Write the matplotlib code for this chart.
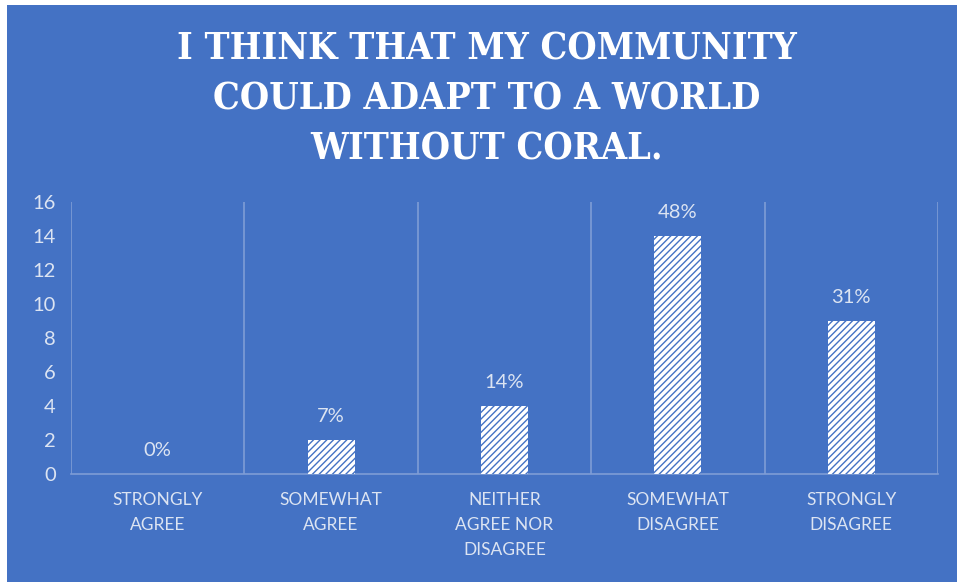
import numpy as np
import matplotlib.pyplot as plt
from matplotlib.patches import Rectangle

# Datos del gráfico
categories = ["STRONGLY\nAGREE", "SOMEWHAT\nAGREE", "NEITHER\nAGREE NOR\nDISAGREE",
              "SOMEWHAT\nDISAGREE", "STRONGLY\nDISAGREE"]
counts = [0, 2, 4, 14, 9]
pct_labels = ["0%", "7%", "14%", "48%", "31%"]
yticks = [0, 2, 4, 6, 8, 10, 12, 14, 16]
title = "I THINK THAT MY COMMUNITY\nCOULD ADAPT TO A WORLD\nWITHOUT CORAL."

bg = "#4472C4"
grid_col = "#7E9DD6"
txt_col = "#DCE4F2"

plt.rcParams["hatch.linewidth"] = 1.0

fig = plt.figure(figsize=(9.57, 5.82), dpi=100)
fig.patch.set_facecolor("white")
# fondo azul con un pequeño borde blanco arriba e izquierda
fig.patches.append(Rectangle((7 / 957, 0), 1, 1 - 5 / 582, transform=fig.transFigure,
                             facecolor=bg, edgecolor="none", zorder=-10))

ax = fig.add_axes([71 / 957, 1 - 474 / 582, (938 - 71) / 957, (474 - 202) / 582])
ax.set_facecolor("none")

x = np.arange(len(categories))
ax.bar(x, counts, width=0.27, color="white", edgecolor=bg, hatch="/////",
       linewidth=0, zorder=3)

for xi, c, lab in zip(x, counts, pct_labels):
    ax.annotate(lab, xy=(xi, c), xytext=(0, 17), textcoords="offset points",
                ha="center", va="center", color=txt_col, fontsize=14.5, family="Lato")

ax.set_xlim(-0.5, len(categories) - 0.5)
ax.set_ylim(0, 16)
ax.set_yticks(yticks)
ax.set_xticks(x)
ax.set_xticklabels(categories, linespacing=1.68)
ax.set_xticks(np.arange(-0.5, len(categories), 1), minor=True)
ax.grid(True, which="minor", axis="x", color=grid_col, linewidth=1.2, zorder=1)
ax.tick_params(which="both", length=0)
ax.tick_params(axis="x", pad=13, labelsize=12.5, labelcolor=txt_col)
ax.tick_params(axis="y", pad=11, labelsize=14.5, labelcolor=txt_col)
for lab in ax.get_xticklabels() + ax.get_yticklabels():
    lab.set_family("Lato")

for s in ["top", "right", "left"]:
    ax.spines[s].set_visible(False)
ax.spines["bottom"].set_color(grid_col)
ax.spines["bottom"].set_linewidth(1.2)

fig.text(487 / 957, 1 - 99 / 582, title, ha="center", va="center", color="white",
         fontsize=27, fontweight="bold", family="DejaVu Serif", fontstretch="condensed",
         linespacing=1.45)

fig.savefig("out.png", dpi=100, facecolor=fig.get_facecolor())
